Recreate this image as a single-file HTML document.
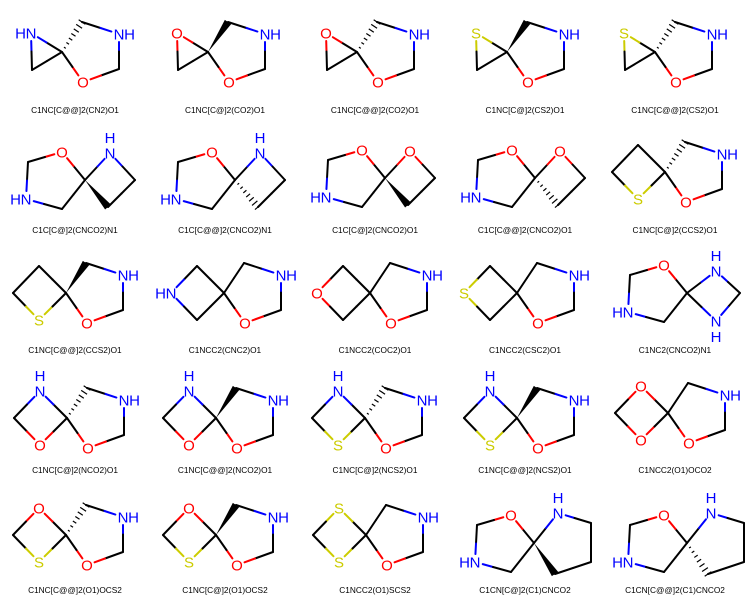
<!DOCTYPE html>
<html><head><meta charset="utf-8"><style>
html,body{margin:0;padding:0;background:#fff;}
svg{display:block;}
text{font-family:"Liberation Sans","DejaVu Sans",sans-serif;}
</style></head><body>
<svg id="grid" width="750" height="600" viewBox="0 0 750 600" xmlns="http://www.w3.org/2000/svg"></svg>
<script>
const NS='http://www.w3.org/2000/svg';
const COL={C:'#000000',N:'#0000FF',O:'#FF0000',S:'#CCCC00'};
const captions=[
'C1NC[C@@]2(CN2)O1','C1NC[C@]2(CO2)O1','C1NC[C@@]2(CO2)O1','C1NC[C@]2(CS2)O1','C1NC[C@@]2(CS2)O1',
'C1C[C@]2(CNCO2)N1','C1C[C@@]2(CNCO2)N1','C1C[C@]2(CNCO2)O1','C1C[C@@]2(CNCO2)O1','C1NC[C@]2(CCS2)O1',
'C1NC[C@@]2(CCS2)O1','C1NCC2(CNC2)O1','C1NCC2(COC2)O1','C1NCC2(CSC2)O1','C1NC2(CNCO2)N1',
'C1NC[C@]2(NCO2)O1','C1NC[C@@]2(NCO2)O1','C1NC[C@]2(NCS2)O1','C1NC[C@@]2(NCS2)O1','C1NCC2(O1)OCO2',
'C1NC[C@@]2(O1)OCS2','C1NC[C@]2(O1)OCS2','C1NCC2(O1)SCS2','C1CN[C@]2(C1)CNCO2','C1CN[C@@]2(C1)CNCO2'];
const spiroPos=[[62,52],[58,52],[57,52],[57,52],[55,52],
[85,60],[85,60],[85,58],[85,58],[65,52],
[66,53],[74,53],[70,53],[67,53],[87,53],
[67,58],[66,58],[65,58],[67,58],[68,53],
[66,55],[66,55],[66,55],[84,63],[87,63]];
// fragment builders: atoms [x,y,el,hpos]; bonds [i,j,stereo] (index 0 = spiro)
function R5(){return {atoms:[[20,-30,'C'],[57,-18,'N','R'],[57,17,'C'],[21,30,'O']],bonds:[['s',0],[0,1],[1,2],[2,3],[3,'s']]};}
function L3(el){return {atoms:[[-31,-19,el,el==='N'?'L':null],[-30,18,'C']],bonds:[['s',0],[0,1],[1,'s']]};}
function L4(t,l,b){return {atoms:[[-27,-27,t,t==='N'?'U':null],[-53,0,l,l==='N'?'L':null],[-27,27,b]],bonds:[['s',0],[0,1],[1,2],[2,'s']]};}
function L5(){return {atoms:[[-23,-28,'O'],[-57,-18,'C'],[-59,19,'N','L'],[-23,29,'C']],bonds:[['s',0],[0,1],[1,2],[2,3],[3,'s']]};}
function R4(x){return {atoms:[[25,-27,x,x==='N'?'U':null],[50,0,'C'],[23,27,'C']],bonds:[['s',0],[0,1],[1,2],[2,'s']]};}
function R4N2(){return {atoms:[[29,-22,'N','U'],[53,0,'C'],[29,28,'N','D']],bonds:[['s',0],[0,1],[1,2],[2,'s']]};}
function R5p(){return {atoms:[[24,-30,'N','U'],[57,-20,'C'],[57,19,'C'],[21,31,'C']],bonds:[['s',0],[0,1],[1,2],[2,3],[3,'s']]};}
// per cell: left fragment, right fragment, stereo [side,atomIndex,type]
const cells=[
[L3('N'),R5(),['R',0,'hash']],[L3('O'),R5(),['R',0,'wedge']],[L3('O'),R5(),['R',0,'hash']],[L3('S'),R5(),['R',0,'wedge']],[L3('S'),R5(),['R',0,'hash']],
[L5(),R4('N'),['R',2,'wedge']],[L5(),R4('N'),['R',2,'hash']],[L5(),R4('O'),['R',2,'wedge']],[L5(),R4('O'),['R',2,'hash']],[L4('C','C','S'),R5(),['R',0,'hash']],
[L4('C','C','S'),R5(),['R',0,'wedge']],[L4('C','N','C'),R5(),null],[L4('C','O','C'),R5(),null],[L4('C','S','C'),R5(),null],[L5(),R4N2(),null],
[L4('N','C','O'),R5(),['R',0,'hash']],[L4('N','C','O'),R5(),['R',0,'wedge']],[L4('N','C','S'),R5(),['R',0,'hash']],[L4('N','C','S'),R5(),['R',0,'wedge']],[L4('O','C','O'),R5(),null],
[L4('O','C','S'),R5(),['R',0,'hash']],[L4('O','C','S'),R5(),['R',0,'wedge']],[L4('S','C','S'),R5(),null],[L5(),R5p(),['R',3,'wedge']],[L5(),R5p(),['R',3,'hash']]];
const svg=document.getElementById('grid');
function el(tag,attrs,parent){const e=document.createElementNS(NS,tag);for(const k in attrs)e.setAttribute(k,attrs[k]);parent.appendChild(e);return e;}
cells.forEach((cell,ci)=>{
  const cx=(ci%5)*150, cy=Math.floor(ci/5)*120;
  const g=el('g',{transform:`translate(${cx},${cy})`},svg);
  
  
  const [sx,sy]=spiroPos[ci];
  const frags={L:cell[0],R:cell[1]};
  const pt=(side,i)=>{ if(i==='s') return [sx,sy,'C']; const a=frags[side].atoms[i]; return [sx+a[0],sy+a[1],a[2],a[3]]; };
  ['L','R'].forEach(side=>{
    frags[side].bonds.forEach(b=>{
      let a=pt(side,b[0]), c=pt(side,b[1]);
      const st=cell[2];
      let stereo=null;
      if(st&&st[0]===side&&((b[0]==='s'&&b[1]===st[1])||(b[1]==='s'&&b[0]===st[1]))){stereo=st[2]; if(b[0]!=='s'){const t=a;a=c;c=t;}}
      let x1=a[0],y1=a[1],x2=c[0],y2=c[1];
      const dx=x2-x1,dy=y2-y1,L=Math.hypot(dx,dy),ux=dx/L,uy=dy/L;
      const sh=8;
      if(a[2]!=='C'){x1+=ux*sh;y1+=uy*sh;}
      if(c[2]!=='C'){x2-=ux*sh;y2-=uy*sh;}
      if(stereo==='wedge'){
        const px=-uy*3.8,py=ux*3.8;
        const p=el('polygon',{points:`${x1},${y1} ${x2+px},${y2+py} ${x2-px},${y2-py}`,fill:'#000'},g);
        
        
      } else if(stereo==='hash'){
        const hg=el('g',{stroke:'#000','stroke-width':1.2},g);
        
        
        for(let k=1;k<=7;k++){const t=k/7;const hx=x1+(x2-x1)*t,hy=y1+(y2-y1)*t,w=0.6+3.4*t;
          el('line',{x1:hx-uy*w,y1:hy+ux*w,x2:hx+uy*w,y2:hy-ux*w},hg);}
      } else {
        const mx=(a[0]+c[0])/2,my=(a[1]+c[1])/2;
        const l1=el('line',{x1:x1,y1:y1,x2:mx,y2:my,stroke:COL[a[2]],'stroke-width':2,'stroke-linecap':'round'},g);
        
        
        const l2=el('line',{x1:mx,y1:my,x2:x2,y2:y2,stroke:COL[c[2]],'stroke-width':2,'stroke-linecap':'round'},g);
        
        
      }
    });
    frags[side].atoms.forEach(a=>{
      if(a[2]==='C') return;
      const x=sx+a[0],y=sy+a[1],c=COL[a[2]];
      const t=el('text',{x:x,y:y+5.5,'text-anchor':'middle','font-size':15,fill:c},g);
      t.textContent=a[2];
      
      
      if(a[3]){
        let hx=x,hy=y+5.5;
        if(a[3]==='R')hx=x+10.5; else if(a[3]==='L')hx=x-10.5; else if(a[3]==='U')hy=y-10; else if(a[3]==='D')hy=y+21;
        const h=el('text',{x:hx,y:hy,'text-anchor':'middle','font-size':15,fill:c},g);
        h.textContent='H';
        
        
      }
    });
  });
  const cap=el('text',{x:75,y:113,'text-anchor':'middle','font-size':8.3,fill:'#000'},g);
  cap.textContent=captions[ci];
  
  
});
</script>
</body></html>
